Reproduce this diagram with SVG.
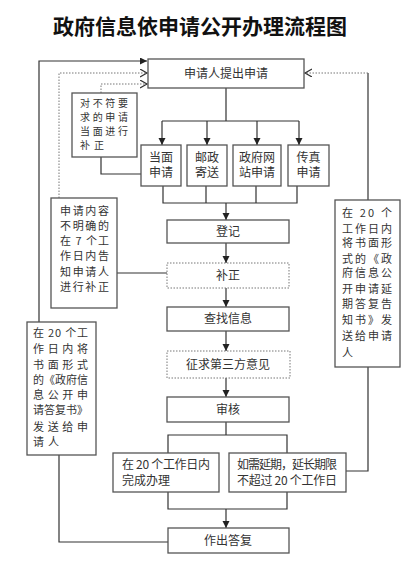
<svg xmlns="http://www.w3.org/2000/svg" width="412" height="565" viewBox="0 0 412 565">
<defs>
<style>
text{font-family:"Noto Sans CJK SC","Noto Sans",sans-serif;fill:#333;font-size:12px}
.title{font-size:21px;font-weight:bold;fill:#111}
.s{font-size:11px}
.xs{font-size:10px}
.box{fill:#fff;stroke:#555;stroke-width:1.3}
.dbox{fill:#fff;stroke:#777;stroke-width:1;stroke-dasharray:1.5 1.5}
.ln{fill:none;stroke:#333;stroke-width:1.2}
.dl{fill:none;stroke:#777;stroke-width:1;stroke-dasharray:1.5 1.5}
.c{text-anchor:middle}
</style>
<marker id="ah" markerUnits="userSpaceOnUse" markerWidth="8" markerHeight="8" refX="7" refY="3.5" orient="auto"><path d="M0,0 L7,3.5 L0,7 z" fill="#222"/></marker>
<marker id="oh" markerUnits="userSpaceOnUse" markerWidth="10" markerHeight="10" refX="7" refY="4" orient="auto"><path d="M0,0 L7,4 L0,8" fill="none" stroke="#333" stroke-width="1.2"/></marker>
</defs>
<rect width="412" height="565" fill="#fff"/>
<text class="title c" x="200" y="34">政府信息依申请公开办理流程图</text>

<g id="connectors">
<path class="ln" d="M39,322 V61 H147" marker-end="url(#ah)"/>
<path class="dl" d="M59,198 V73 H147" marker-end="url(#oh)"/>
<path class="dl" d="M101,93 V84 H147" marker-end="url(#oh)"/>
<path class="ln" d="M101,157 V174 H141"/>
<path class="ln" d="M226,88 V121 M162,121 H299"/>
<path class="ln" d="M162,121 V145" marker-end="url(#ah)"/>
<path class="ln" d="M207,121 V145" marker-end="url(#ah)"/>
<path class="ln" d="M257,121 V145" marker-end="url(#ah)"/>
<path class="ln" d="M299,121 V145" marker-end="url(#ah)"/>
<path class="ln" d="M163,186 V203 H297 V186 M206,186 V203 M256,186 V203"/>
<path class="ln" d="M226,203 V220" marker-end="url(#ah)"/>
<path class="ln" d="M117,273 H167"/>
<path class="ln" d="M226,243 V263" marker-end="url(#ah)"/>
<path class="ln" d="M226,288 V307" marker-end="url(#ah)"/>
<path class="ln" d="M226,331 V351" marker-end="url(#ah)"/>
<path class="ln" d="M226,378 V397" marker-end="url(#ah)"/>
<path class="ln" d="M226,422 V435 M168,453 V435 H287 V453"/>
<path class="ln" d="M168,492 V509 H287 V492"/>
<path class="ln" d="M226,509 V528" marker-end="url(#ah)"/>
<path class="ln" d="M59,455 V542 H168"/>
<path class="ln" d="M346,471 H368 V367"/>
<path class="ln" d="M368,200 V73"/>
<path class="dl" d="M368,73 H305" marker-end="url(#oh)"/>
</g>

<g id="n-apply"><rect class="box" x="148" y="59" width="156" height="29"/><text class="c" x="226" y="78">申请人提出申请</text></g>

<g id="n-correct-face"><rect class="box" x="72" y="93" width="65" height="64"/>
<text class="xs" x="80" y="107" textLength="48" lengthAdjust="spacing">对不符要</text>
<text class="xs" x="80" y="121" textLength="48" lengthAdjust="spacing">求的申请</text>
<text class="xs" x="80" y="135" textLength="48" lengthAdjust="spacing">当面进行</text>
<text class="xs" x="80" y="149" textLength="24" lengthAdjust="spacing">补正</text></g>

<g id="n-face"><rect class="box" x="141" y="145" width="40" height="41"/><text class="c" x="161" y="162">当面</text><text class="c" x="161" y="177">申请</text></g>
<g id="n-post"><rect class="box" x="187" y="145" width="40" height="41"/><text class="c" x="207" y="162">邮政</text><text class="c" x="207" y="177">寄送</text></g>
<g id="n-web"><rect class="box" x="233" y="145" width="48" height="41"/><text class="c" x="257" y="162">政府网</text><text class="c" x="257" y="177">站申请</text></g>
<g id="n-fax"><rect class="box" x="288" y="145" width="41" height="41"/><text class="c" x="308.5" y="162">传真</text><text class="c" x="308.5" y="177">申请</text></g>

<g id="n-unclear"><rect class="box" x="51" y="198" width="66" height="110"/>
<text class="s" x="60" y="215" textLength="49" lengthAdjust="spacing">申请内容</text>
<text class="s" x="60" y="230" textLength="49" lengthAdjust="spacing">不明确的</text>
<text class="s" x="60" y="245" textLength="49" lengthAdjust="spacing">在 7 个工</text>
<text class="s" x="60" y="260" textLength="49" lengthAdjust="spacing">作日内告</text>
<text class="s" x="60" y="276" textLength="49" lengthAdjust="spacing">知申请人</text>
<text class="s" x="60" y="291" textLength="49" lengthAdjust="spacing">进行补正</text></g>

<g id="n-register"><rect class="box" x="167" y="220" width="122" height="23"/><text class="c" x="228" y="236">登记</text></g>
<g id="n-fix"><rect class="dbox" x="167" y="263" width="122" height="25"/><text class="c" x="228" y="280">补正</text></g>
<g id="n-search"><rect class="box" x="167" y="307" width="122" height="24"/><text class="c" x="228" y="323">查找信息</text></g>
<g id="n-third"><rect class="dbox" x="167" y="351" width="123" height="27"/><text class="c" x="228" y="369">征求第三方意见</text></g>
<g id="n-review"><rect class="box" x="167" y="397" width="122" height="25"/><text class="c" x="228" y="414">审核</text></g>

<g id="n-reply-notice"><rect class="box" x="27" y="322" width="69" height="133"/>
<text class="s" x="33" y="337" textLength="55" lengthAdjust="spacing">在 20 个工</text>
<text class="s" x="33" y="353" textLength="55" lengthAdjust="spacing">作日内将</text>
<text class="s" x="33" y="369" textLength="55" lengthAdjust="spacing">书面形式</text>
<text class="s" x="33" y="384" textLength="55" lengthAdjust="spacing">的《政府信</text>
<text class="s" x="33" y="399" textLength="55" lengthAdjust="spacing">息公开申</text>
<text class="s" x="33" y="414" textLength="55" lengthAdjust="spacing">请答复书》</text>
<text class="s" x="33" y="431" textLength="55" lengthAdjust="spacing">发送给申</text>
<text class="s" x="33" y="446" textLength="26" lengthAdjust="spacing">请人</text></g>

<g id="n-extend-notice"><rect class="box" x="335" y="200" width="65" height="167"/>
<text class="s" x="342" y="217" textLength="50" lengthAdjust="spacing">在 20 个</text>
<text class="s" x="342" y="233" textLength="50" lengthAdjust="spacing">工作日内</text>
<text class="s" x="342" y="247" textLength="50" lengthAdjust="spacing">将书面形</text>
<text class="s" x="342" y="263" textLength="50" lengthAdjust="spacing">式的《政</text>
<text class="s" x="342" y="277" textLength="50" lengthAdjust="spacing">府信息公</text>
<text class="s" x="342" y="293" textLength="50" lengthAdjust="spacing">开申请延</text>
<text class="s" x="342" y="308" textLength="50" lengthAdjust="spacing">期答复告</text>
<text class="s" x="342" y="324" textLength="50" lengthAdjust="spacing">知书》发</text>
<text class="s" x="342" y="340" textLength="50" lengthAdjust="spacing">送给申请</text>
<text class="s" x="342" y="357">人</text></g>

<g id="n-in20"><rect class="box" x="113" y="453" width="106" height="39"/>
<text x="122" y="469" textLength="88" lengthAdjust="spacing">在 20 个工作日内</text>
<text x="122" y="485">完成办理</text></g>

<g id="n-extend"><rect class="box" x="229" y="453" width="117" height="39"/>
<text x="237" y="469" textLength="100" lengthAdjust="spacing">如需延期，延长期限</text>
<text x="237" y="485" textLength="100" lengthAdjust="spacing">不超过 20 个工作日</text></g>

<g id="n-answer"><rect class="box" x="168" y="528" width="121" height="25"/><text class="c" x="228" y="545">作出答复</text></g>
</svg>
